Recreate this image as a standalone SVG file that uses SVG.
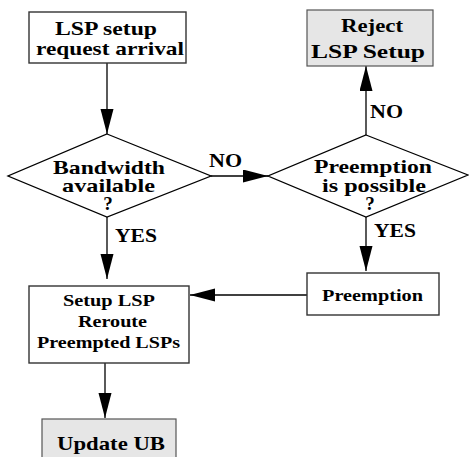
<svg xmlns="http://www.w3.org/2000/svg" width="469" height="457" viewBox="0 0 469 457">
<style>
  text { font-family: "Liberation Serif", "Times New Roman", serif; font-weight: bold; fill: #000; }
  .big { font-size: 19px; }
  .small { font-size: 17.5px; }
  .box { fill: #fff; stroke: #333; stroke-width: 1.4; }
  .gbox { fill: #e6e6e6; stroke: #555; stroke-width: 1.2; }
  .dia { fill: #fff; stroke: #000; stroke-width: 1.3; }
  .edge { fill: none; stroke: #000; stroke-width: 1.3; marker-end: url(#arr); }
</style>
<defs>
  <marker id="arr" markerUnits="userSpaceOnUse" markerWidth="26" markerHeight="14" refX="25" refY="6.5" orient="auto">
    <path d="M0,0 L25,6.5 L0,13 z" fill="#000"/>
  </marker>
</defs>
<rect width="469" height="457" fill="#fff"/>
<g id="connectors">
  <path class="edge" d="M107,63 V134"/>
  <path class="edge" d="M211,176 H268"/>
  <path class="edge" d="M366,135 V66"/>
  <path class="edge" d="M366,217 V271"/>
  <path class="edge" d="M107,217 V279"/>
  <path class="edge" d="M307,295 H190"/>
  <path class="edge" d="M105,363 V418"/>
  <text class="big" x="209" y="167" textLength="33" lengthAdjust="spacingAndGlyphs">NO</text>
  <text class="big" x="370" y="118" textLength="33" lengthAdjust="spacingAndGlyphs">NO</text>
  <text class="big" x="374" y="237" textLength="42" lengthAdjust="spacingAndGlyphs">YES</text>
  <text class="big" x="115" y="242" textLength="42" lengthAdjust="spacingAndGlyphs">YES</text>
</g>
<g id="request">
  <rect class="box" x="29" y="12" width="157" height="51"/>
  <text class="big" x="106" y="35" text-anchor="middle" textLength="102" lengthAdjust="spacingAndGlyphs">LSP setup</text>
  <text class="big" x="110" y="55" text-anchor="middle" textLength="148" lengthAdjust="spacingAndGlyphs">request arrival</text>
</g>
<g id="reject">
  <rect class="gbox" x="307" y="10" width="126" height="56"/>
  <text class="big" x="372" y="32" text-anchor="middle" textLength="62" lengthAdjust="spacingAndGlyphs">Reject</text>
  <text class="big" x="368" y="58" text-anchor="middle" textLength="114" lengthAdjust="spacingAndGlyphs">LSP Setup</text>
</g>
<g id="bandwidth">
  <polygon class="dia" points="107,134 211,176 107,217 8,176"/>
  <text class="big" x="109" y="174" text-anchor="middle" textLength="112" lengthAdjust="spacingAndGlyphs">Bandwidth</text>
  <text class="big" x="108.5" y="192" text-anchor="middle" textLength="93" lengthAdjust="spacingAndGlyphs">available</text>
  <text class="big" x="108" y="210" text-anchor="middle">?</text>
</g>
<g id="preemptcheck">
  <polygon class="dia" points="366,135 468,175 366,217 268,176"/>
  <text class="big" x="373" y="173" text-anchor="middle" textLength="118" lengthAdjust="spacingAndGlyphs">Preemption</text>
  <text class="big" x="374" y="192" text-anchor="middle" textLength="104" lengthAdjust="spacingAndGlyphs">is possible</text>
  <text class="big" x="370" y="210" text-anchor="middle">?</text>
</g>
<g id="preemption">
  <rect class="box" x="307" y="273" width="132" height="42"/>
  <text class="small" x="372.5" y="301" text-anchor="middle" textLength="101" lengthAdjust="spacingAndGlyphs">Preemption</text>
</g>
<g id="setup">
  <rect class="box" x="29" y="286" width="160" height="77"/>
  <text class="small" x="109" y="306" text-anchor="middle" textLength="92" lengthAdjust="spacingAndGlyphs">Setup LSP</text>
  <text class="small" x="112.5" y="327" text-anchor="middle" textLength="69" lengthAdjust="spacingAndGlyphs">Reroute</text>
  <text class="small" x="108.5" y="348" text-anchor="middle" textLength="143" lengthAdjust="spacingAndGlyphs">Preempted LSPs</text>
</g>
<g id="update">
  <rect class="gbox" x="42" y="419" width="134" height="45"/>
  <text class="big" x="111" y="450" text-anchor="middle" textLength="108" lengthAdjust="spacingAndGlyphs">Update UB</text>
</g>
</svg>
